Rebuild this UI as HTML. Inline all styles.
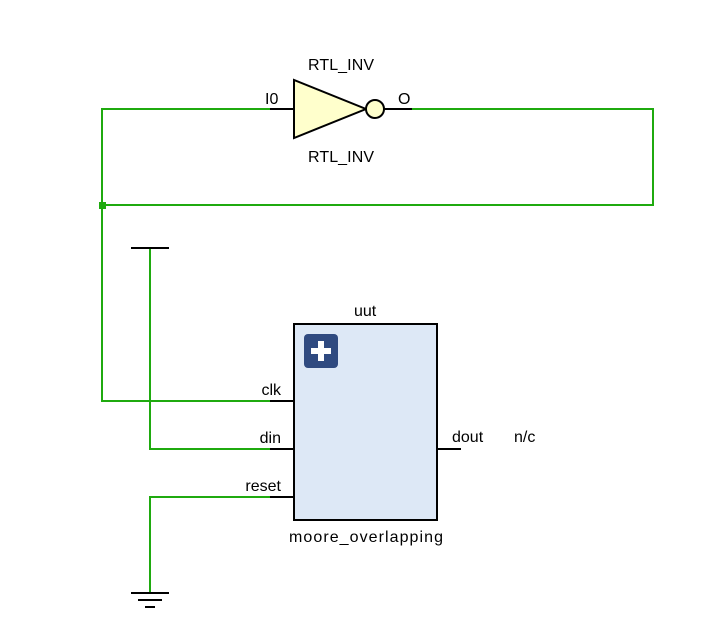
<!DOCTYPE html>
<html><head><meta charset="utf-8"><style>
html,body{margin:0;padding:0;background:#fff;}
svg{display:block;}
</style></head><body>
<svg width="706" height="637" viewBox="0 0 706 637" xmlns="http://www.w3.org/2000/svg">
<g stroke="#1faa0f" stroke-width="2" fill="none">
<polyline points="270,109 102,109 102,401 270,401"/>
<polyline points="412,109 653,109 653,205 102,205"/>
<polyline points="150,248 150,449 270,449"/>
<polyline points="270,497 150,497 150,593"/>
</g>
<rect x="99" y="202" width="7" height="7" fill="#1faa0f"/>
<g stroke="#000" stroke-width="2" fill="none">
<line x1="270" y1="109" x2="294" y2="109"/>
<line x1="384" y1="109" x2="412" y2="109"/>
<line x1="270" y1="401" x2="294" y2="401"/>
<line x1="270" y1="449" x2="294" y2="449"/>
<line x1="270" y1="497" x2="294" y2="497"/>
<line x1="437" y1="449" x2="461" y2="449"/>
<line x1="131" y1="248" x2="169" y2="248"/>
<line x1="131" y1="593" x2="169" y2="593"/>
<line x1="138" y1="600" x2="162" y2="600"/>
<line x1="145" y1="607" x2="155" y2="607"/>
</g>
<polygon points="294,80 294,138 366,109" fill="#ffffcc" stroke="#000" stroke-width="2"/>
<circle cx="375" cy="109" r="9" fill="#ffffcc" stroke="#000" stroke-width="2"/>
<rect x="294" y="324" width="143" height="196" fill="#dde8f6" stroke="#000" stroke-width="2"/>
<rect x="304" y="334" width="34" height="34" rx="4" fill="#2f4a80"/>
<rect x="318" y="341" width="6" height="20" fill="#fff"/>
<rect x="311" y="348" width="20" height="6" fill="#fff"/>
<g font-family="Liberation Sans, DejaVu Sans, sans-serif" font-size="16" fill="#000">
<text x="308" y="70" textLength="66">RTL_INV</text>
<text x="308" y="162" textLength="66">RTL_INV</text>
<text x="265" y="104">I0</text>
<text x="398" y="104">O</text>
<text x="354" y="316">uut</text>
<text x="281" y="395" text-anchor="end">clk</text>
<text x="281" y="443" text-anchor="end">din</text>
<text x="281" y="491" text-anchor="end">reset</text>
<text x="452" y="442">dout</text>
<text x="514" y="442">n/c</text>
<text x="289" y="542" textLength="154">moore_overlapping</text>
</g>
</svg>
</body></html>
